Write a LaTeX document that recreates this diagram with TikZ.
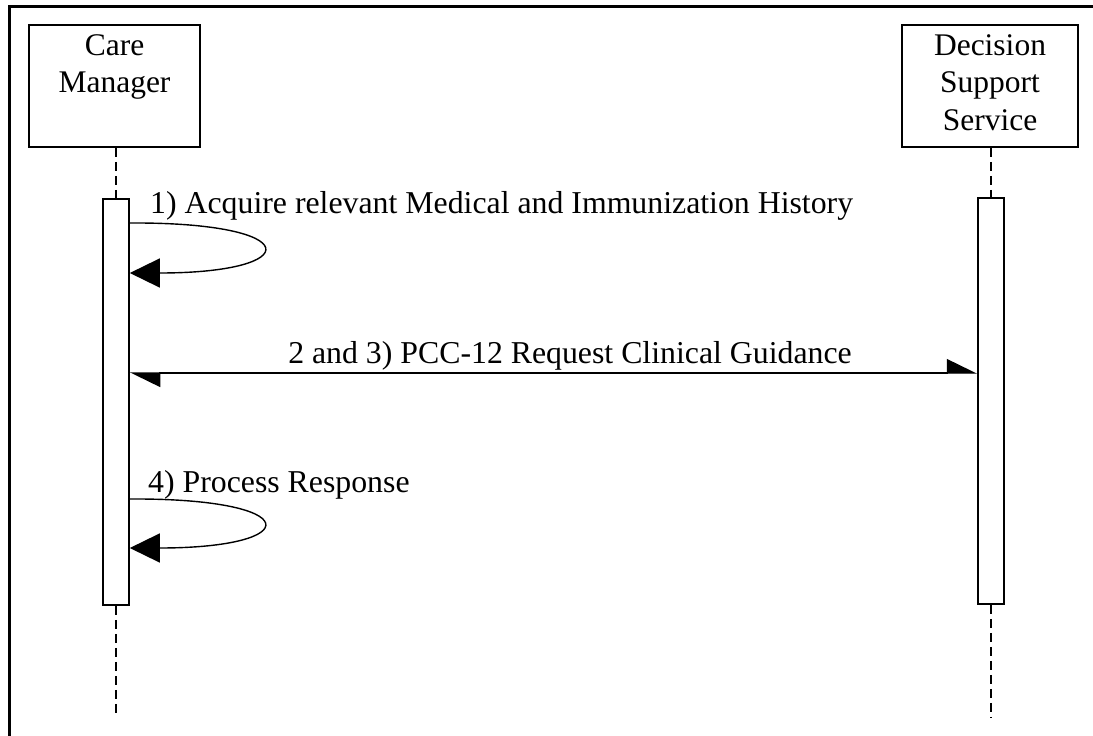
\documentclass[tikz,border=0pt]{standalone}
\usepackage{fontspec}
\setmainfont{Liberation Serif}
\usetikzlibrary{arrows.meta}
\begin{document}
\begin{tikzpicture}[x=1pt,y=-1pt,
  actorbox/.style={draw,line width=1.6pt,minimum width=#1,minimum height=122pt,inner sep=0pt},
  actortext/.style={anchor=north,align=center,inner sep=0pt,font=\fontsize{31.5}{37.5}\selectfont},
  actbox/.style={draw,line width=1.6pt,fill=white,minimum width=26pt,minimum height=406pt,inner sep=0pt},
  lifeline/.style={line width=1.6pt,dash pattern=on 9pt off 5pt},
  msg/.style={font=\fontsize{31.8}{37.5}\selectfont,inner sep=0pt},
  selfloop/.style={line width=1.4pt,-{Triangle[length=30pt,width=29pt]}},
  frameline/.style={line width=3pt}
]
\useasboundingbox (0,0) rectangle (1093,736);
% outer frame
\coordinate (fbl) at (9,736);
\coordinate (ftl) at (9,6);
\coordinate (ftr) at (1093,6);
\draw[frameline] (fbl) -- (ftl) -- (ftr);
% actors
\node[actorbox=171pt] (cm) at (114.5,86) {};
\node[actortext] (cmt) at (114.5,34) {Care\\Manager};
\node[actorbox=176pt] (dss) at (990,86) {};
\node[actortext] (dsst) at (990,34) {Decision\\Support\\Service};
% activations
\node[actbox] (a1) at (116,402) {};
\node[actbox] (a2) at (991,401) {};
% lifelines
\coordinate (e1) at (116,717);
\coordinate (e2) at (991,717);
\draw[lifeline] (cm.south -| a1.north) -- (a1.north);
\draw[lifeline] (a1.south) -- (e1);
\draw[lifeline] (dss.south -| a2.north) -- (a2.north);
\draw[lifeline] (a2.south) -- (e2);
% message 1 self loop
\coordinate (s1) at (a1.east |- 0,223);
\coordinate (t1) at (a1.east |- 0,273);
\draw[selfloop] (s1) .. controls (306,222) and (306,273) .. (t1);
\node[msg,anchor=base west] (l1) at (150,213) {1) Acquire relevant Medical and Immunization History};
% message 2 and 3
\coordinate (m1) at (a1.east |- 0,373);
\coordinate (m2) at (a2.west |- 0,373);
\draw[line width=1.4pt,{Triangle[left,length=29pt,width=28pt]}-{Triangle[left,length=29pt,width=28pt]}] (m1) -- (m2);
\node[msg,anchor=base] (l2) at (570,363) {2 and 3) PCC-12 Request Clinical Guidance};
% message 4 self loop
\coordinate (s4) at (a1.east |- 0,499);
\coordinate (t4) at (a1.east |- 0,548);
\draw[selfloop] (s4) .. controls (306,498) and (306,548) .. (t4);
\node[msg,anchor=base west] (l4) at (148,492) {4) Process Response};
\end{tikzpicture}
\end{document}
